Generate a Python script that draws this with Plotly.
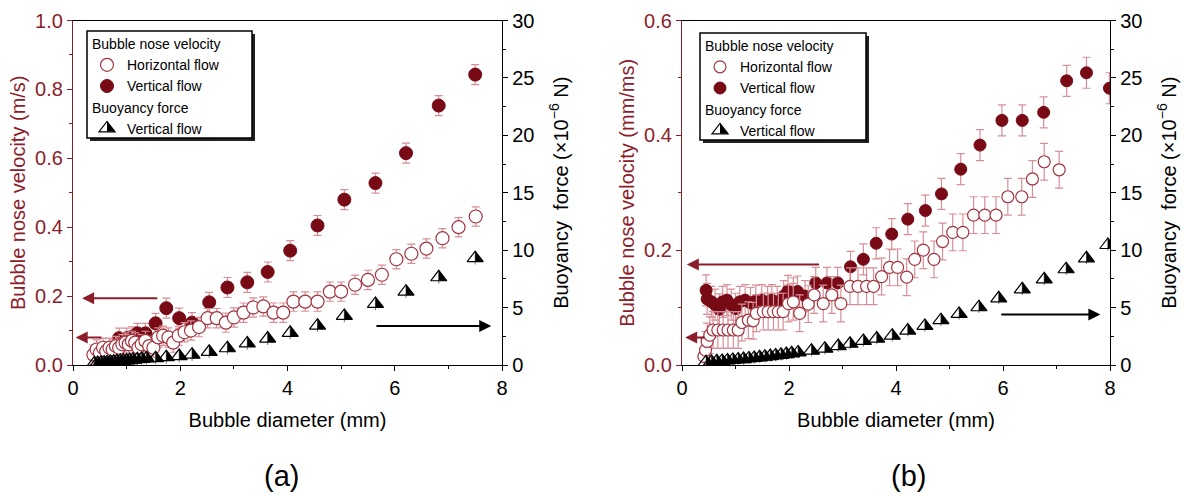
import math
import plotly.graph_objects as go

# ---------------- data ----------------
# Panel (a)
a_hor_d = [0.38, 0.44, 0.50, 0.56, 0.62, 0.68, 0.74, 0.80, 0.86, 0.92, 0.98, 1.04, 1.10, 1.16,
           1.22, 1.28, 1.35, 1.42, 1.50, 1.59, 1.68, 1.78, 1.87, 1.97, 2.08, 2.20, 2.35, 2.51,
           2.68, 2.85, 3.00, 3.18, 3.36, 3.55, 3.74, 3.92, 4.11, 4.33, 4.56, 4.79, 5.00, 5.26,
           5.50, 5.76, 6.03, 6.31, 6.59, 6.89, 7.19, 7.51]
a_hor_v = [0.030, 0.045, 0.035, 0.050, 0.040, 0.050, 0.045, 0.055, 0.050, 0.060, 0.065, 0.060,
           0.070, 0.065, 0.050, 0.060, 0.070, 0.055, 0.050, 0.080, 0.085, 0.080, 0.065, 0.085,
           0.095, 0.100, 0.110, 0.136, 0.136, 0.123, 0.138, 0.152, 0.167, 0.170, 0.152, 0.152,
           0.184, 0.184, 0.184, 0.213, 0.213, 0.233, 0.247, 0.262, 0.307, 0.323, 0.338, 0.368,
           0.400, 0.431]
a_hor_err = 0.028

a_ver_d = [0.86, 1.00, 1.10, 1.20, 1.35, 1.54, 1.74, 1.98, 2.22, 2.54, 2.88, 3.25, 3.63, 4.05,
           4.56, 5.06, 5.64, 6.21, 6.82, 7.50]
a_ver_v = [0.078, 0.078, 0.082, 0.092, 0.092, 0.121, 0.165, 0.136, 0.123, 0.182, 0.225, 0.240,
           0.270, 0.332, 0.405, 0.480, 0.528, 0.615, 0.753, 0.843]
a_ver_err = 0.029

a_buo_d = [0.40, 0.46, 0.52, 0.58, 0.64, 0.70, 0.76, 0.82, 0.88, 0.94, 1.00, 1.06, 1.12, 1.20,
           1.28, 1.37, 1.54, 1.74, 1.98, 2.22, 2.54, 2.88, 3.25, 3.63, 4.05, 4.56, 5.06, 5.64,
           6.21, 6.82, 7.50]
a_buo_f = [0.15, 0.18, 0.20, 0.22, 0.25, 0.27, 0.30, 0.32, 0.35, 0.38, 0.40, 0.43, 0.46, 0.50,
           0.54, 0.58, 0.60, 0.68, 0.78, 0.90, 1.15, 1.46, 1.88, 2.30, 2.80, 3.43, 4.27, 5.32,
           6.39, 7.64, 9.30]
a_buo_err = 0.55

# Panel (b)
b_hor_d = [0.41, 0.44, 0.47, 0.52, 0.58, 0.67, 0.77, 0.86, 0.96, 1.05, 1.12, 1.24, 1.33, 1.39,
           1.52, 1.61, 1.71, 1.80, 1.89, 1.99, 2.08, 2.20, 2.36, 2.47, 2.64, 2.80, 2.97, 3.14,
           3.29, 3.45, 3.58, 3.73, 3.88, 4.03, 4.20, 4.35, 4.51, 4.71, 4.87, 5.06, 5.25, 5.45,
           5.66, 5.87, 6.09, 6.35, 6.55, 6.77, 7.05]
b_hor_v = [0.015, 0.026, 0.041, 0.052, 0.061, 0.061, 0.061, 0.061, 0.061, 0.061, 0.074, 0.078,
           0.077, 0.090, 0.093, 0.093, 0.093, 0.093, 0.093, 0.107, 0.110, 0.090, 0.106, 0.122,
           0.107, 0.122, 0.107, 0.137, 0.137, 0.137, 0.137, 0.154, 0.170, 0.170, 0.153, 0.184,
           0.200, 0.184, 0.215, 0.231, 0.231, 0.261, 0.261, 0.261, 0.293, 0.293, 0.324, 0.354,
           0.340]
b_hor_err = 0.032

b_ver_d = [0.45, 0.47, 0.55, 0.62, 0.70, 0.76, 0.84, 0.92, 1.00, 1.08, 1.18, 1.28, 1.38, 1.49,
           1.60, 1.68, 1.78, 1.90, 1.98, 2.08, 2.16, 2.30, 2.50, 2.71, 2.91, 3.15, 3.39, 3.63,
           3.92, 4.22, 4.55, 4.85, 5.21, 5.57, 5.98, 6.36, 6.76, 7.19, 7.56, 7.99]
b_ver_v = [0.130, 0.115, 0.110, 0.105, 0.097, 0.110, 0.113, 0.105, 0.098, 0.110, 0.113, 0.108,
           0.112, 0.113, 0.110, 0.113, 0.110, 0.120, 0.129, 0.125, 0.128, 0.120, 0.143, 0.143,
           0.143, 0.171, 0.184, 0.212, 0.228, 0.254, 0.269, 0.298, 0.341, 0.383, 0.426, 0.426,
           0.440, 0.495, 0.509, 0.482]
b_ver_err = 0.027

b_buo_d = [0.45, 0.55, 0.65, 0.75, 0.85, 0.95, 1.05, 1.15, 1.25, 1.35, 1.45, 1.55, 1.65, 1.75,
           1.85, 1.95, 2.05, 2.17, 2.42, 2.67, 2.92, 3.14, 3.39, 3.64, 3.93, 4.22, 4.54, 4.84,
           5.18, 5.55, 5.92, 6.36, 6.77, 7.18, 7.56, 7.96]
b_buo_f = [0.25, 0.28, 0.32, 0.36, 0.40, 0.44, 0.48, 0.52, 0.57, 0.62, 0.67, 0.72, 0.78, 0.83,
           0.89, 0.95, 1.02, 1.10, 1.25, 1.42, 1.65, 1.85, 2.10, 2.30, 2.55, 3.00, 3.40, 3.90,
           4.45, 5.03, 5.81, 6.59, 7.46, 8.34, 9.29, 10.45]
b_buo_err = 0.5

x_ticks = [0, 2, 4, 6, 8]
legend_group_vel = "Bubble nose velocity"
legend_group_buo = "Buoyancy force"

# ---------------- styling ----------------
W, H = 1184, 496
FONT = "Arial, Liberation Sans, sans-serif"
RED_AX = "#8c1d2b"
RED_FILL = "#780a16"
RED_LINE = "#a3343f"
RED_ERR = "#d88e97"
TRI_SIZE = 14


def px(xp):
    return xp / W


def py(yp):
    return 1 - yp / H


fig = go.Figure()


def add_panel(xa, ya, ya2, hd, hv, herr, vd, vv, verr, bd, bf, berr, leg, csize):
    # vertical flow (filled) drawn first, horizontal flow on top
    fig.add_trace(go.Scatter(
        x=vd, y=vv, mode="markers", name="Vertical flow", xaxis=xa, yaxis=ya,
        legend=leg, legendgroup="vel", legendgrouptitle_text=legend_group_vel, legendrank=2,
        marker=dict(symbol="circle", size=csize, color=RED_FILL, line=dict(color=RED_FILL, width=1)),
        error_y=dict(type="constant", value=verr, color=RED_ERR, thickness=1.2, width=4)))
    fig.add_trace(go.Scatter(
        x=hd, y=hv, mode="markers", name="Horizontal flow", xaxis=xa, yaxis=ya,
        legend=leg, legendgroup="vel", legendgrouptitle_text=legend_group_vel, legendrank=1,
        marker=dict(symbol="circle", size=csize, color="white", line=dict(color=RED_LINE, width=1.2)),
        error_y=dict(type="constant", value=herr, color=RED_ERR, thickness=1.2, width=4)))
    fig.add_trace(go.Scatter(
        x=bd, y=bf, mode="markers", name="Vertical flow", xaxis=xa, yaxis=ya2,
        legend=leg, legendgroup="buo", legendgrouptitle_text=legend_group_buo, legendrank=3,
        marker=dict(symbol="triangle-up", size=TRI_SIZE, color="rgba(255,255,255,0)",
                    line=dict(color="black", width=1.2)),
        error_y=dict(type="constant", value=berr, color="#777777", thickness=1, width=0)))


add_panel("x", "y", "y2", a_hor_d, a_hor_v, a_hor_err, a_ver_d, a_ver_v, a_ver_err,
          a_buo_d, a_buo_f, a_buo_err, "legend", 13)
add_panel("x2", "y3", "y4", b_hor_d, b_hor_v, b_hor_err, b_ver_d, b_ver_v, b_ver_err,
          b_buo_d, b_buo_f, b_buo_err, "legend2", 12)

# half-filled triangles (right half black), anchored at data points
r = TRI_SIZE / 2
rt = r * 2 / math.sqrt(3)
half_path = f"M0,{-r/2:.2f}L{rt:.2f},{-r/2:.2f}L0,{r:.2f}Z"
shapes = []
for xr, yr, ds, fs in (("x", "y2", a_buo_d, a_buo_f), ("x2", "y4", b_buo_d, b_buo_f)):
    for dd, ff in zip(ds, fs):
        shapes.append(dict(type="path", xref=xr, yref=yr, xsizemode="pixel", ysizemode="pixel",
                           xanchor=dd, yanchor=ff, path=half_path, fillcolor="black",
                           line=dict(width=0), layer="above"))

# legend frames with drop shadow (pixel boxes converted to paper)
legend_boxes = [(87, 31, 252, 138), (700, 33, 866, 140)]
for (x0, y0, x1, y1) in legend_boxes:
    shapes.append(dict(type="rect", xref="paper", yref="paper", x0=px(x0 + 3), x1=px(x1 + 3),
                       y0=py(y1 + 3), y1=py(y0 + 3), fillcolor="#222222", line=dict(width=0),
                       layer="above"))
    shapes.append(dict(type="rect", xref="paper", yref="paper", x0=px(x0), x1=px(x1),
                       y0=py(y1), y1=py(y0), fillcolor="white", line=dict(color="black", width=1.5),
                       layer="above"))
    # half fill of the legend triangle symbol
    shapes.append(dict(type="path", xref="paper", yref="paper", xsizemode="pixel", ysizemode="pixel",
                       xanchor=px(x0 + 20), yanchor=py(y0 + 97), path=half_path, fillcolor="black",
                       line=dict(width=0), layer="above"))

# ---------------- axes ----------------
ydom = [py(365), py(20.5)]
xdom_a = [px(73), px(502)]
xdom_b = [px(682), px(1110)]

tickfont = dict(family=FONT, size=20, color="black")


def xaxis_cfg(dom, anchor):
    return dict(domain=dom, anchor=anchor, range=[0, 8], tickvals=x_ticks, showgrid=False,
                zeroline=False, showline=True, linecolor="black", linewidth=1.3, mirror=True,
                ticks="outside", ticklen=5, tickcolor="black", tickfont=tickfont, automargin=False,
                minor=dict(dtick=1, ticks="outside", ticklen=3, tickcolor="black"),
                title=dict(text="Bubble diameter (mm)", font=dict(family=FONT, size=20, color="black"),
                           standoff=14))


def yleft_cfg(anchor, rng, dtick, unit):
    return dict(domain=ydom, anchor=anchor, range=rng, dtick=dtick, tickformat=".1f",
                showgrid=False, zeroline=False, showline=True, linecolor=RED_AX, linewidth=1.3,
                ticks="outside", ticklen=5, tickcolor=RED_AX, automargin=False,
                tickfont=dict(family=FONT, size=20, color=RED_AX),
                minor=dict(dtick=dtick / 2, ticks="outside", ticklen=3, tickcolor=RED_AX),
                title=dict(text=f"Bubble nose velocity ({unit})",
                           font=dict(family=FONT, size=20, color=RED_AX), standoff=4))


def yright_cfg(overlay, anchor):
    return dict(overlaying=overlay, anchor=anchor, side="right", range=[0, 30], dtick=5,
                showgrid=False, zeroline=False, showline=True, linecolor="black", linewidth=1.3,
                ticks="outside", ticklen=5, tickcolor="black", tickfont=tickfont, automargin=False,
                minor=dict(dtick=2.5, ticks="outside", ticklen=3, tickcolor="black"),
                title=dict(text="Buoyancy  force (×10<sup>−6</sup> N)",
                           font=dict(family=FONT, size=20, color="black"), standoff=20))


legend_common = dict(xanchor="left", yanchor="top", bgcolor="rgba(0,0,0,0)",
                     borderwidth=0, font=dict(family=FONT, size=14, color="black"),
                     grouptitlefont=dict(family=FONT, size=14, color="black"),
                     tracegroupgap=0, traceorder="grouped", itemwidth=30)

# arrows
arrows = [
    ("x", "y", 1.60, 0.194, 0.17, 0.194, RED_AX),
    ("x", "y", 0.56, 0.080, 0.05, 0.080, RED_AX),
    ("x", "y2", 5.63, 3.40, 7.80, 3.40, "black"),
    ("x2", "y3", 2.59, 0.175, 0.09, 0.175, RED_AX),
    ("x2", "y3", 0.44, 0.048, 0.06, 0.048, RED_AX),
    ("x2", "y4", 5.94, 4.40, 7.82, 4.40, "black"),
]
annotations = []
for xr, yr, x0, y0, x1, y1, col in arrows:
    annotations.append(dict(x=x1, y=y1, ax=x0, ay=y0, xref=xr, yref=yr, axref=xr, ayref=yr,
                            text="", showarrow=True, arrowhead=2, arrowsize=1.2, arrowwidth=2,
                            arrowcolor=col))
annotations += [
    dict(text="(a)", x=px(281), y=py(476), xref="paper", yref="paper", showarrow=False,
         xanchor="center", yanchor="middle", font=dict(family=FONT, size=29, color="black")),
    dict(text="(b)", x=px(908), y=py(476), xref="paper", yref="paper", showarrow=False,
         xanchor="center", yanchor="middle", font=dict(family=FONT, size=29, color="black")),
]

fig.update_layout(
    width=W, height=H, margin=dict(l=0, r=0, t=0, b=0, pad=0, autoexpand=False),
    paper_bgcolor="white", plot_bgcolor="white",
    font=dict(family=FONT, color="black"),
    xaxis=xaxis_cfg(xdom_a, "y"),
    yaxis=yleft_cfg("x", [0, 1.0], 0.2, "m/s"),
    yaxis2=yright_cfg("y", "x"),
    xaxis2=xaxis_cfg(xdom_b, "y3"),
    yaxis3=yleft_cfg("x2", [0, 0.6], 0.2, "mm/ms"),
    yaxis4=yright_cfg("y3", "x2"),
    legend=dict(x=px(87), y=py(28), **legend_common),
    legend2=dict(x=px(700), y=py(30), **legend_common),
    shapes=shapes,
    annotations=annotations,
    showlegend=True,
)

fig.write_html("out.html")
